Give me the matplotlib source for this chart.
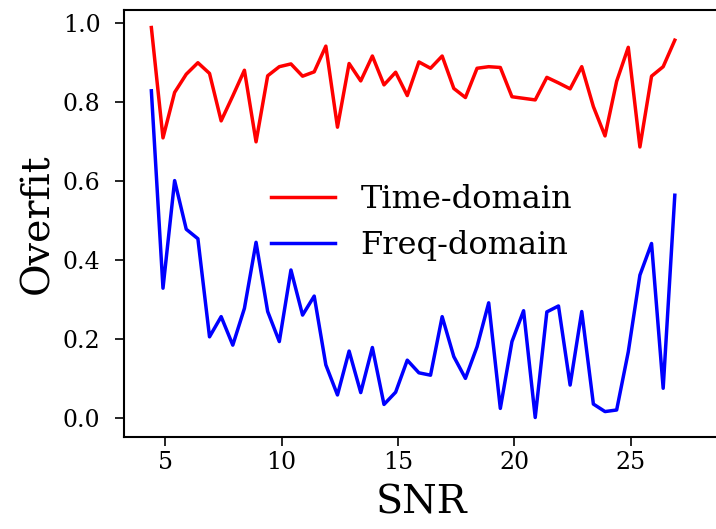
import numpy as np
import matplotlib
matplotlib.use("Agg")
import matplotlib.pyplot as plt

plt.rcParams['font.family'] = ['DejaVu Serif']

snr = [4.4 + 0.5 * i for i in range(46)]

time_domain = [0.988, 0.709, 0.824, 0.870, 0.899, 0.872, 0.752, 0.815, 0.880, 0.699,
               0.866, 0.889, 0.896, 0.865, 0.876, 0.941, 0.736, 0.897, 0.853, 0.916,
               0.843, 0.875, 0.816, 0.901, 0.885, 0.916, 0.834, 0.811, 0.885, 0.889,
               0.887, 0.813, 0.809, 0.805, 0.862, 0.848, 0.833, 0.889, 0.788, 0.714,
               0.852, 0.938, 0.686, 0.865, 0.889, 0.956]

freq_domain = [0.828, 0.329, 0.601, 0.478, 0.454, 0.206, 0.257, 0.185, 0.278, 0.445,
               0.270, 0.194, 0.375, 0.261, 0.309, 0.135, 0.059, 0.170, 0.065, 0.179,
               0.035, 0.066, 0.147, 0.115, 0.109, 0.257, 0.156, 0.101, 0.181, 0.292,
               0.025, 0.194, 0.272, 0.002, 0.269, 0.284, 0.084, 0.270, 0.036, 0.017,
               0.021, 0.168, 0.362, 0.442, 0.076, 0.564]

fig = plt.figure(figsize=(7.16, 5.29), dpi=100)
ax = fig.add_axes([0.1725, 0.1745, 0.833, 0.8065])

ax.plot(snr, time_domain, color='red', lw=2.5, label='Time-domain')
ax.plot(snr, freq_domain, color='blue', lw=2.5, label='Freq-domain')

ax.set_xlim(3.203, 28.84)
ax.set_ylim(-0.0465, 1.0322)
ax.set_xticks([5, 10, 15, 20, 25])
ax.set_yticks([0.0, 0.2, 0.4, 0.6, 0.8, 1.0])

ax.tick_params(labelsize=17, length=6.5, width=1.2)
ax.tick_params(axis='y', pad=10)
for s in ax.spines.values():
    s.set_linewidth(1.5)

ax.set_xlabel('SNR', fontsize=28.5, labelpad=8)
ax.set_ylabel('Overfit', fontsize=28.5, labelpad=5)

ax.legend(loc='center', bbox_to_anchor=(0.50, 0.502), frameon=False,
          fontsize=23, labelspacing=0.45)

fig.savefig('out.png', dpi=100)
